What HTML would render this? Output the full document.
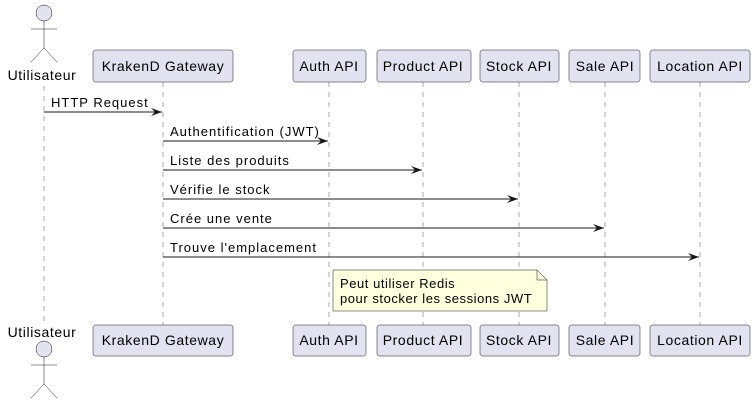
<!DOCTYPE html>
<html><head><meta charset="utf-8"><style>html,body{margin:0;padding:0;background:#fff}svg{display:block}</style></head>
<body>
<svg width="756" height="407" xmlns="http://www.w3.org/2000/svg" font-family="Liberation Sans, sans-serif">
<defs><marker id="a" markerWidth="12" markerHeight="10" refX="11" refY="5" orient="auto" markerUnits="userSpaceOnUse"><path d="M0,1 L11,5 L0,9 L4,5 Z" fill="#181818"/></marker></defs>
<g stroke="#181818" stroke-width="0.6" stroke-dasharray="5,5" opacity="0.6">
<line x1="44" y1="86" x2="44" y2="325"/><line x1="163" y1="82" x2="163" y2="325"/><line x1="329" y1="82" x2="329" y2="325"/><line x1="423" y1="82" x2="423" y2="325"/><line x1="519" y1="82" x2="519" y2="325"/><line x1="605" y1="82" x2="605" y2="325"/><line x1="700" y1="82" x2="700" y2="325"/>
</g>
<g fill="#E2E2F0" stroke="#181818" stroke-width="0.5">
<rect x="93" y="50" width="140" height="32" rx="2.5"/><rect x="293" y="50" width="73" height="32" rx="2.5"/><rect x="377" y="50" width="94" height="32" rx="2.5"/><rect x="480" y="50" width="79" height="32" rx="2.5"/><rect x="569" y="50" width="71" height="32" rx="2.5"/><rect x="650" y="50" width="100" height="32" rx="2.5"/>
<rect x="93" y="325" width="140" height="31" rx="2.5"/><rect x="293" y="325" width="73" height="31" rx="2.5"/><rect x="377" y="325" width="94" height="31" rx="2.5"/><rect x="480" y="325" width="79" height="31" rx="2.5"/><rect x="569" y="325" width="71" height="31" rx="2.5"/><rect x="650" y="325" width="100" height="31" rx="2.5"/>
<circle cx="44" cy="13" r="8"/><circle cx="44" cy="349" r="8"/>
</g>
<g stroke="#181818" stroke-width="0.5" fill="none">
<path d="M44,21 V48 M31,29 H57 M31,62 L44,48 L57,62"/>
<path d="M44,357 V384 M31,365 H57 M31,398 L44,384 L57,398"/>
</g>
<g font-size="14" fill="#000" text-anchor="middle" letter-spacing="0.6">
<text x="42" y="80">Utilisateur</text><text x="42" y="337">Utilisateur</text>
<text x="163" y="71">KrakenD Gateway</text><text x="329" y="71">Auth API</text><text x="423" y="71">Product API</text><text x="519" y="71">Stock API</text><text x="605" y="71">Sale API</text><text x="700" y="71">Location API</text>
<text x="163" y="345">KrakenD Gateway</text><text x="329" y="345">Auth API</text><text x="423" y="345">Product API</text><text x="519" y="345">Stock API</text><text x="605" y="345">Sale API</text><text x="700" y="345">Location API</text>
</g>
<g stroke="#181818" stroke-width="1" marker-end="url(#a)">
<line x1="44" y1="112" x2="162" y2="112"/><line x1="163" y1="141" x2="328" y2="141"/><line x1="163" y1="170" x2="422" y2="170"/><line x1="163" y1="199" x2="518" y2="199"/><line x1="163" y1="228" x2="604" y2="228"/><line x1="163" y1="257" x2="699" y2="257"/>
</g>
<g font-size="13" fill="#000" letter-spacing="1">
<text x="51" y="107">HTTP Request</text><text x="170" y="136">Authentification (JWT)</text><text x="170" y="165">Liste des produits</text><text x="170" y="194">Vérifie le stock</text><text x="170" y="223">Crée une vente</text><text x="170" y="252">Trouve l'emplacement</text>
</g>
<path d="M333,270 H537 L547,280 V311 H333 Z" fill="#FEFFDD" stroke="#181818" stroke-width="0.5"/>
<path d="M537,270 V280 H547" fill="none" stroke="#181818" stroke-width="0.5"/>
<g font-size="13" fill="#000" letter-spacing="0.55"><text x="340" y="288">Peut utiliser Redis</text><text x="340" y="303">pour stocker les sessions JWT</text></g>
</svg>
</body></html>
